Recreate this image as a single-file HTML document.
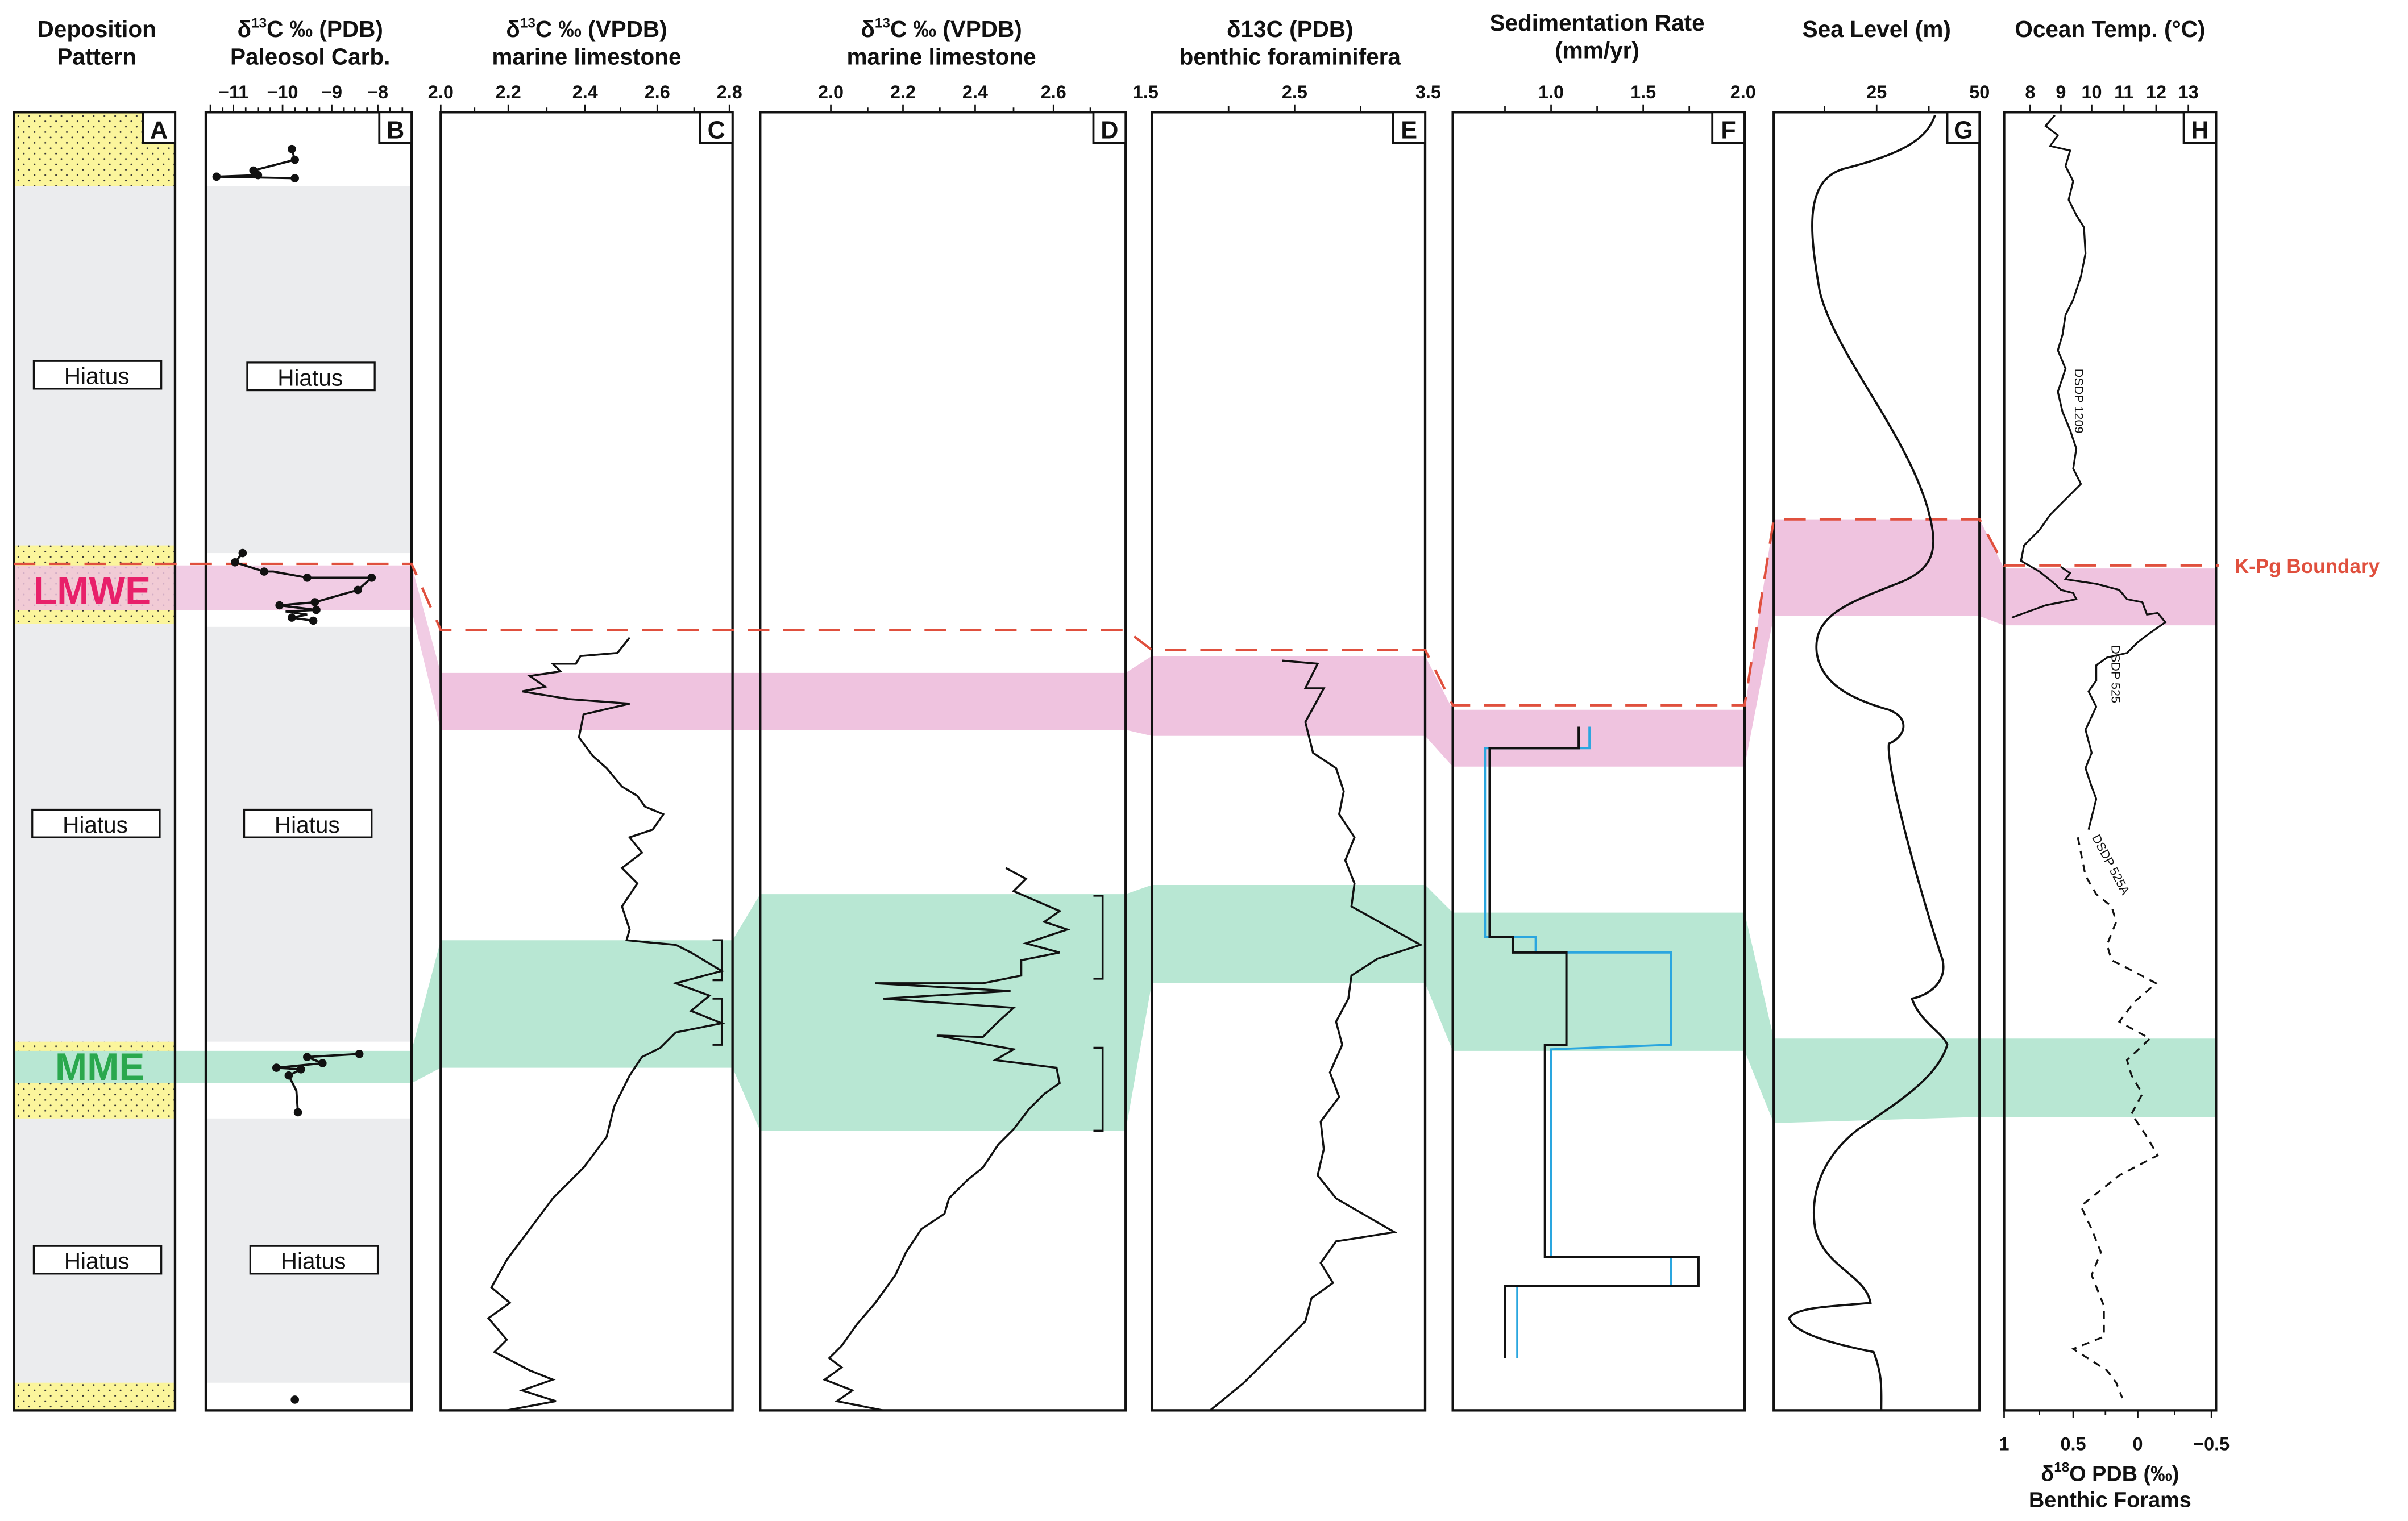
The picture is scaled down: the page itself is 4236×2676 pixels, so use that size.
<!DOCTYPE html>
<html><head><meta charset="utf-8"><style>
html,body{margin:0;padding:0;background:#fff;}
svg{display:block;}
text{font-family:"Liberation Sans",Arial,sans-serif;}
</style></head><body>
<svg width="4236" height="2676" viewBox="0 0 1568 990" preserveAspectRatio="none" xmlns="http://www.w3.org/2000/svg">
<defs>
<pattern id="dots" width="7" height="7" patternUnits="userSpaceOnUse">
<rect width="7" height="7" fill="#fbf59c"/>
<circle cx="1.5" cy="2" r="0.55" fill="#333"/>
<circle cx="5" cy="5.5" r="0.55" fill="#333"/>
</pattern>
</defs>
<!-- titles -->
<g font-weight="bold" font-size="15" text-anchor="middle" fill="#111">
<text x="63" y="24">Deposition</text><text x="63" y="42">Pattern</text>
<text x="202" y="24">δ<tspan font-size="9" dy="-6">13</tspan><tspan dy="6">C ‰ (PDB)</tspan></text><text x="202" y="42">Paleosol Carb.</text>
<text x="382" y="24">δ<tspan font-size="9" dy="-6">13</tspan><tspan dy="6">C ‰ (VPDB)</tspan></text><text x="382" y="42">marine limestone</text>
<text x="613" y="24">δ<tspan font-size="9" dy="-6">13</tspan><tspan dy="6">C ‰ (VPDB)</tspan></text><text x="613" y="42">marine limestone</text>
<text x="840" y="24">δ13C (PDB)</text><text x="840" y="42">benthic foraminifera</text>
<text x="1040" y="20">Sedimentation Rate</text><text x="1040" y="38">(mm/yr)</text>
<text x="1222" y="24">Sea Level (m)</text>
<text x="1374" y="24">Ocean Temp. (°C)</text>
</g>
<!-- axis labels -->
<g font-weight="bold" font-size="12" text-anchor="middle" fill="#111">
<text x="152" y="64">−11</text><text x="184" y="64">−10</text><text x="216" y="64">−9</text><text x="246" y="64">−8</text>
<text x="287" y="64">2.0</text><text x="331" y="64">2.2</text><text x="381" y="64">2.4</text><text x="428" y="64">2.6</text><text x="475" y="64">2.8</text>
<text x="541" y="64">2.0</text><text x="588" y="64">2.2</text><text x="635" y="64">2.4</text><text x="686" y="64">2.6</text>
<text x="746" y="64">1.5</text><text x="843" y="64">2.5</text><text x="930" y="64">3.5</text>
<text x="1010" y="64">1.0</text><text x="1070" y="64">1.5</text><text x="1135" y="64">2.0</text>
<text x="1222" y="64">25</text><text x="1289" y="64">50</text>
<text x="1322" y="64">8</text><text x="1342" y="64">9</text><text x="1362" y="64">10</text><text x="1383" y="64">11</text><text x="1404" y="64">12</text><text x="1425" y="64">13</text>
<text x="1305" y="944">1</text><text x="1350" y="944">0.5</text><text x="1392" y="944">0</text><text x="1440" y="944">−0.5</text>
</g>
<g font-weight="bold" font-size="14" text-anchor="middle" fill="#111">
<text x="1374" y="964">δ<tspan font-size="9" dy="-6">18</tspan><tspan dy="6">O PDB (‰)</tspan></text>
<text x="1374" y="981">Benthic Forams</text>
</g>
<!-- ticks -->
<g stroke="#111" stroke-width="1">
<path d="M137 73v-5M145 73v-3M152 73v-5M160 73v-3M168 73v-3M176 73v-3M184 73v-5M192 73v-3M200 73v-3M208 73v-3M216 73v-5M224 73v-3M231 73v-3M239 73v-3M246 73v-5M254 73v-3M262 73v-3"/>
<path d="M287 73v-5M309 73v-3M331 73v-5M356 73v-3M381 73v-5M404 73v-3M428 73v-5M452 73v-3M475 73v-5"/>
<path d="M541 73v-5M565 73v-3M588 73v-5M612 73v-3M635 73v-5M660 73v-3M686 73v-5M710 73v-3"/>
<path d="M800 73v-4M843 73v-5M886 73v-4"/>
<path d="M980 73v-4M1010 73v-5M1040 73v-4M1070 73v-5M1100 73v-4"/>
<path d="M1188 73v-4M1222 73v-5M1256 73v-4"/>
<path d="M1322 73v-5M1342 73v-5M1362 73v-5M1383 73v-5M1404 73v-5M1425 73v-5"/>
<path d="M1305 918v5M1328 918v3M1350 918v5M1371 918v3M1392 918v5M1416 918v3M1440 918v5"/>
</g>
<!-- panel A -->
<rect x="9" y="73" width="105" height="845" fill="#ebecee"/>
<rect x="9" y="73" width="105" height="48" fill="url(#dots)"/>
<rect x="9" y="355" width="105" height="51" fill="url(#dots)"/>
<rect x="9" y="678" width="105" height="50" fill="url(#dots)"/>
<rect x="9" y="900" width="105" height="18" fill="url(#dots)"/>
<!-- panel B -->
<rect x="134" y="121" width="134" height="239" fill="#ebecee"/>
<rect x="134" y="408" width="134" height="270" fill="#ebecee"/>
<rect x="134" y="728" width="134" height="172" fill="#ebecee"/>
<!-- pink bands -->
<g fill="#efc3df" opacity="0.85">
<polygon points="9,368 268,368 287,438 287,475 268,397 9,397"/>
</g>
<g fill="#efc3df">
<polygon points="287,438 733,438 750,427 928,427 946,462 1136,462 1155,338 1289,338 1305,370 1443,370 1443,407 1305,407 1289,401 1155,401 1136,499 946,499 928,479 750,479 733,475 287,475"/>
</g>
<!-- green bands -->
<g fill="#b8e7d3">
<polygon points="9,684 268,684 287,612 477,612 495,582 733,582 750,576 928,576 946,594 1136,594 1155,676 1443,676 1443,727 1289,727 1155,731 1136,684 946,684 928,640 750,640 733,736 495,736 477,695 287,695 268,705 9,705"/>
</g>
<!-- panel frames -->
<g fill="none" stroke="#111" stroke-width="1.6">
<rect x="9" y="73" width="105" height="845"/>
<rect x="134" y="73" width="134" height="845"/>
<rect x="287" y="73" width="190" height="845"/>
<rect x="495" y="73" width="238" height="845"/>
<rect x="750" y="73" width="178" height="845"/>
<rect x="946" y="73" width="190" height="845"/>
<rect x="1155" y="73" width="134" height="845"/>
<rect x="1305" y="73" width="138" height="845"/>
</g>
<!-- panel letters -->
<g font-weight="bold" font-size="16" text-anchor="middle" fill="#111">
<rect x="93" y="73" width="21" height="20" fill="#fff" stroke="#111" stroke-width="1.4"/><text x="103.5" y="90">A</text>
<rect x="247" y="73" width="21" height="20" fill="#fff" stroke="#111" stroke-width="1.4"/><text x="257.5" y="90">B</text>
<rect x="456" y="73" width="21" height="20" fill="#fff" stroke="#111" stroke-width="1.4"/><text x="466.5" y="90">C</text>
<rect x="712" y="73" width="21" height="20" fill="#fff" stroke="#111" stroke-width="1.4"/><text x="722.5" y="90">D</text>
<rect x="907" y="73" width="21" height="20" fill="#fff" stroke="#111" stroke-width="1.4"/><text x="917.5" y="90">E</text>
<rect x="1115" y="73" width="21" height="20" fill="#fff" stroke="#111" stroke-width="1.4"/><text x="1125.5" y="90">F</text>
<rect x="1268" y="73" width="21" height="20" fill="#fff" stroke="#111" stroke-width="1.4"/><text x="1278.5" y="90">G</text>
<rect x="1422" y="73" width="21" height="20" fill="#fff" stroke="#111" stroke-width="1.4"/><text x="1432.5" y="90">H</text>
</g>
<!-- hiatus boxes -->
<g font-size="15" text-anchor="middle" fill="#111">
<rect x="22" y="235" width="83" height="18" fill="#fff" stroke="#111" stroke-width="1.2"/><text x="63" y="250">Hiatus</text>
<rect x="161" y="236" width="83" height="18" fill="#fff" stroke="#111" stroke-width="1.2"/><text x="202" y="251">Hiatus</text>
<rect x="21" y="527" width="83" height="18" fill="#fff" stroke="#111" stroke-width="1.2"/><text x="62" y="542">Hiatus</text>
<rect x="159" y="527" width="83" height="18" fill="#fff" stroke="#111" stroke-width="1.2"/><text x="200" y="542">Hiatus</text>
<rect x="22" y="811" width="83" height="18" fill="#fff" stroke="#111" stroke-width="1.2"/><text x="63" y="826">Hiatus</text>
<rect x="163" y="811" width="83" height="18" fill="#fff" stroke="#111" stroke-width="1.2"/><text x="204" y="826">Hiatus</text>
</g>
<text x="60" y="393" font-size="25" text-anchor="middle" fill="#e8206a" font-weight="bold">LMWE</text>
<text x="65" y="703" font-size="25" text-anchor="middle" fill="#2aa84e" font-weight="bold">MME</text>
<!-- K-Pg dashed -->
<polyline points="9,367 268,367 287,410 733,410 750,423 928,423 946,459 1136,459 1155,338 1289,338 1305,368 1445,368" fill="none" stroke="#e0503e" stroke-width="1.6" stroke-dasharray="14,9"/>
<text x="1455" y="373" font-size="13" font-weight="bold" fill="#e0503e">K-Pg Boundary</text>
<!-- B data -->
<g stroke="#111" stroke-width="1.4" fill="#111">
<polyline fill="none" points="190,97 192,104 165,111 168,114 141,115 192,116"/>
<circle cx="190" cy="97" r="2"/><circle cx="192" cy="104" r="2"/><circle cx="165" cy="111" r="2"/><circle cx="168" cy="114" r="2"/><circle cx="141" cy="115" r="2"/><circle cx="192" cy="116" r="2"/>
<polyline fill="none" points="158,360 153,366 172,372 178,372 200,376 242,376 233,384 205,392 182,394 206,397 186,398 200,400 190,402 204,404"/>
<circle cx="158" cy="360" r="2"/><circle cx="153" cy="366" r="2"/><circle cx="172" cy="372" r="2"/><circle cx="200" cy="376" r="2"/><circle cx="242" cy="376" r="2"/><circle cx="233" cy="384" r="2"/><circle cx="205" cy="392" r="2"/><circle cx="182" cy="394" r="2"/><circle cx="206" cy="397" r="2"/><circle cx="190" cy="402" r="2"/><circle cx="204" cy="404" r="2"/>
<polyline fill="none" points="234,686 200,688 210,692 180,695 196,696 188,700 193,710 194,724"/>
<circle cx="234" cy="686" r="2"/><circle cx="200" cy="688" r="2"/><circle cx="210" cy="692" r="2"/><circle cx="180" cy="695" r="2"/><circle cx="196" cy="696" r="2"/><circle cx="188" cy="700" r="2"/><circle cx="194" cy="724" r="2"/>
<circle cx="192" cy="911" r="2"/>
</g>
<!-- C curve -->
<polyline fill="none" stroke="#111" stroke-width="1.3" points="410,415 402,425 378,427 375,432 360,432 365,437 345,440 355,447 340,450 370,455 410,458 380,465 377,480 386,492 395,500 405,512 415,518 420,525 432,530 425,540 410,545 418,555 405,565 415,575 405,590 410,605 408,612 440,615 450,620 470,632 440,640 462,648 450,658 470,666 440,672 430,682 418,688 410,700 400,720 395,740 380,760 360,780 345,800 330,820 320,838 332,848 318,858 330,872 322,880 345,892 360,898 340,905 362,912 330,918"/>
<!-- D curve -->
<polyline fill="none" stroke="#111" stroke-width="1.3" points="655,565 668,572 660,580 690,593 680,600 695,605 668,614 690,620 665,625 665,635 640,640 570,640 658,645 575,650 660,656 650,665 640,675 610,674 660,683 648,690 688,695 690,705 680,712 670,722 660,735 650,745 640,760 630,768 618,780 615,790 600,800 590,815 583,830 570,848 558,862 548,876 540,884 548,890 537,898 555,905 545,912 575,918"/>
<!-- E curve -->
<polyline fill="none" stroke="#111" stroke-width="1.3" points="835,430 858,432 850,448 862,448 850,470 855,490 870,500 875,515 872,530 882,545 876,560 882,575 880,590 925,615 897,624 880,635 878,650 870,665 874,680 866,698 872,714 860,730 862,748 858,765 870,780 908,802 870,808 860,822 868,835 854,845 850,860 830,880 810,900 788,918"/>
<!-- F steps -->
<polyline fill="none" stroke="#2aa6df" stroke-width="1.4" points="1035,473 1035,487 967,487 967,610 1000,610 1000,620 1088,620 1088,680 1010,683 1010,818 1088,818 1088,837 988,837 988,884"/>
<polyline fill="none" stroke="#111" stroke-width="1.5" points="1028,473 1028,487 970,487 970,610 985,610 985,620 1020,620 1020,680 1006,680 1006,818 1106,818 1106,837 980,837 980,884"/>
<!-- G curve -->
<path fill="none" stroke="#111" stroke-width="1.4" d="M1260,75 C1255,90 1240,100 1200,110 C1175,118 1178,150 1185,190 C1195,230 1240,280 1255,330 C1262,355 1262,370 1235,380 C1205,392 1180,400 1183,425 C1186,445 1205,455 1230,462 C1245,468 1240,480 1230,484 C1228,500 1250,580 1265,625 C1268,640 1255,648 1245,650 C1250,665 1265,672 1268,680 C1262,700 1240,715 1210,735 C1188,752 1178,775 1182,800 C1188,825 1215,830 1218,848 C1200,850 1170,850 1165,858 C1168,868 1195,875 1220,880 C1226,895 1225,905 1225,918"/>
<!-- H curves -->
<polyline fill="none" stroke="#111" stroke-width="1.2" points="1338,75 1332,82 1340,88 1335,95 1348,98 1345,108 1350,118 1347,130 1352,140 1357,148 1358,165 1355,180 1350,195 1345,205 1343,218 1340,228 1345,240 1340,255 1343,268 1348,280 1352,292 1350,305 1355,315 1345,325 1335,335 1328,345 1318,355 1316,365 1328,372 1338,380 1342,384 1350,386 1352,390 1332,394 1310,402"/>
<polyline fill="none" stroke="#111" stroke-width="1.2" points="1342,369 1348,373 1345,377 1365,380 1380,384 1385,390 1395,392 1398,400 1405,399 1410,405 1400,412 1392,418 1385,425 1372,428 1365,433 1365,443 1360,450 1365,460 1358,475 1362,490 1358,500 1362,512 1365,520 1362,532 1360,540"/>
<polyline fill="none" stroke="#111" stroke-width="1.2" stroke-dasharray="5,4" points="1353,545 1358,570 1365,582 1375,590 1378,600 1372,615 1375,625 1385,630 1404,640 1390,652 1380,665 1400,676 1385,690 1388,700 1395,712 1388,725 1398,740 1405,752 1380,765 1355,785 1362,800 1368,815 1362,830 1370,850 1370,870 1350,878 1372,892 1378,900 1382,910"/>
<g font-size="8" fill="#111">
<text transform="translate(1351,240) rotate(90)">DSDP 1209</text>
<text transform="translate(1375,420) rotate(90)">DSDP 525</text>
<text transform="translate(1362,545) rotate(62)">DSDP 525A</text>
</g>
<!-- brackets -->
<g fill="none" stroke="#111" stroke-width="1.3">
<polyline points="464,612 470,612 470,638 464,638"/>
<polyline points="464,650 470,650 470,680 464,680"/>
<polyline points="712,583 718,583 718,637 712,637"/>
<polyline points="712,682 718,682 718,736 712,736"/>
</g>
</svg>
</body></html>
